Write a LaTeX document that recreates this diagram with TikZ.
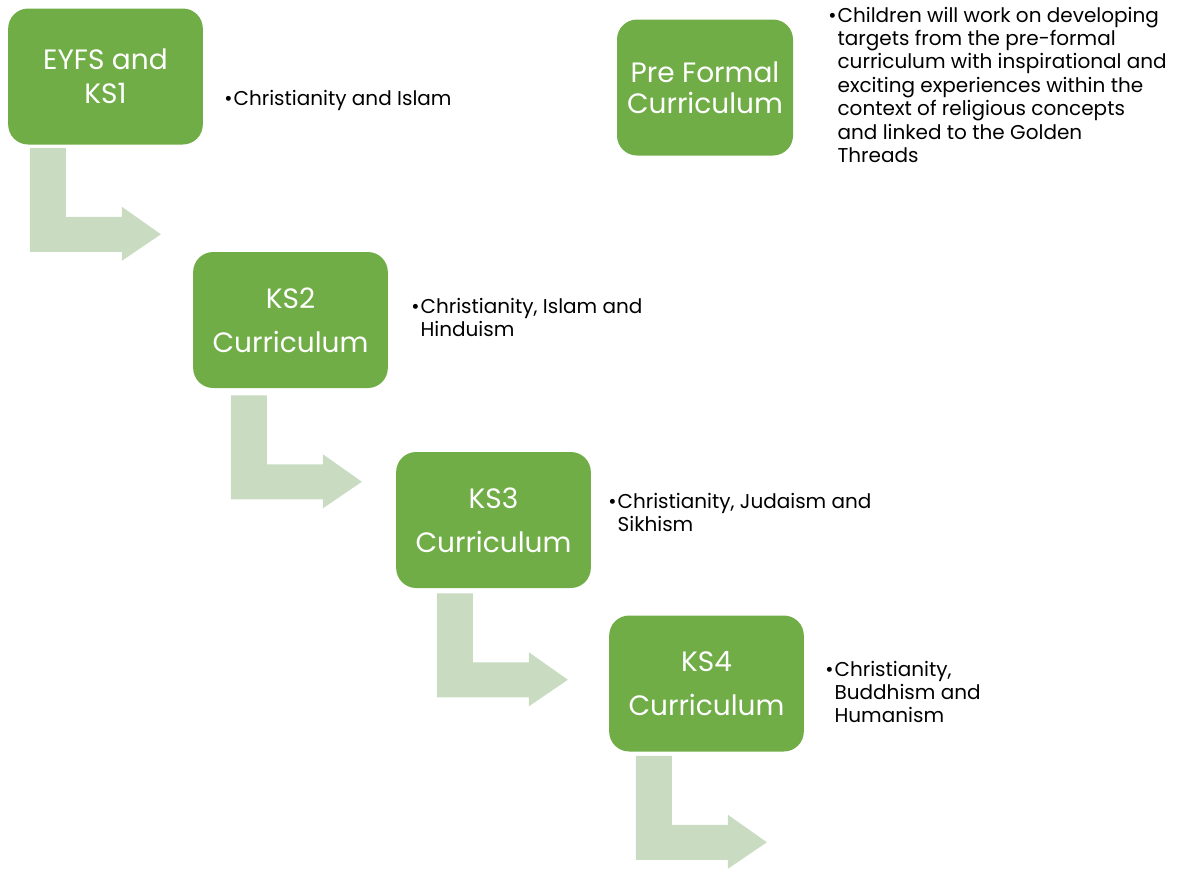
\documentclass[tikz,border=0pt]{standalone}
\usepackage{fontspec}
\setmainfont{Poppins}
\definecolor{stagegreen}{RGB}{112,173,71}
\definecolor{flowgreen}{RGB}{201,220,193}
\tikzset{
stage/.style={rectangle, rounded corners=15pt, fill=stagegreen, text=white, align=center,
  minimum width=146pt, minimum height=102pt, font=\fontsize{21}{25.5}\selectfont},
ksstage/.style={stage, font=\fontsize{21}{33}\selectfont},
topics/.style={anchor=base west, inner sep=0pt, font=\fontsize{15}{17.6}\selectfont},
bentarrow/.pic={
  \fill[flowgreen] (0,0) -- (36,0) -- (36,69) -- (92,69) -- (92,59) -- (131,86.5)
    -- (92,113) -- (92,104) -- (0,104) -- cycle;
}
}
\newcommand{\topic}[1]{\begin{tabular}[t]{@{}l@{}l@{}}\makebox[7pt][l]{\textbullet}&#1\end{tabular}}

\begin{document}
\begin{tikzpicture}[x=0.75pt, y=-0.75pt]
\useasboundingbox (0,0) rectangle (1179,869);

% key stages
\node[stage] (eyfs) at (105.5,76.5) {EYFS and\\KS1};
\node[ksstage] (ks2) at (290.5,320) {KS2\\Curriculum};
\node[ksstage] (ks3) at (493.5,520) {KS3\\Curriculum};
\node[ksstage] (ks4) at (706.5,683.5) {KS4\\Curriculum};
\node[stage, minimum width=132pt, font=\fontsize{21}{23.5}\selectfont] (preformal) at (705,87.5) {Pre Formal\\Curriculum};

% bent arrows below each stage
\pic at ([shift={(22,3)}]eyfs.south west) {bentarrow};
\pic at ([shift={(38,7)}]ks2.south west) {bentarrow};
\pic at ([shift={(41,5)}]ks3.south west) {bentarrow};
\pic at ([shift={(27,4)}]ks4.south west) {bentarrow};

% religions
\node[topics] (eyfstext) at (224,105) {\topic{Christianity and Islam}};
\node[topics] (ks2text) at (411,313) {\topic{Christianity, Islam and\\ & Hinduism}};
\node[topics] (ks3text) at (608,508) {\topic{Christianity, Judaism and\\ & Sikhism}};
\node[topics] (ks4text) at (825,676) {\topic{Christianity,\\ & Buddhism and\\ & Humanism}};
\node[topics] (preformaltext) at (828,22) {\topic{Children will work on developing\\
  & targets from the pre-formal\\
  & curriculum with inspirational and\\
  & exciting experiences within the\\
  & context of religious concepts\\
  & and linked to the Golden\\
  & Threads}};

\end{tikzpicture}
\end{document}
